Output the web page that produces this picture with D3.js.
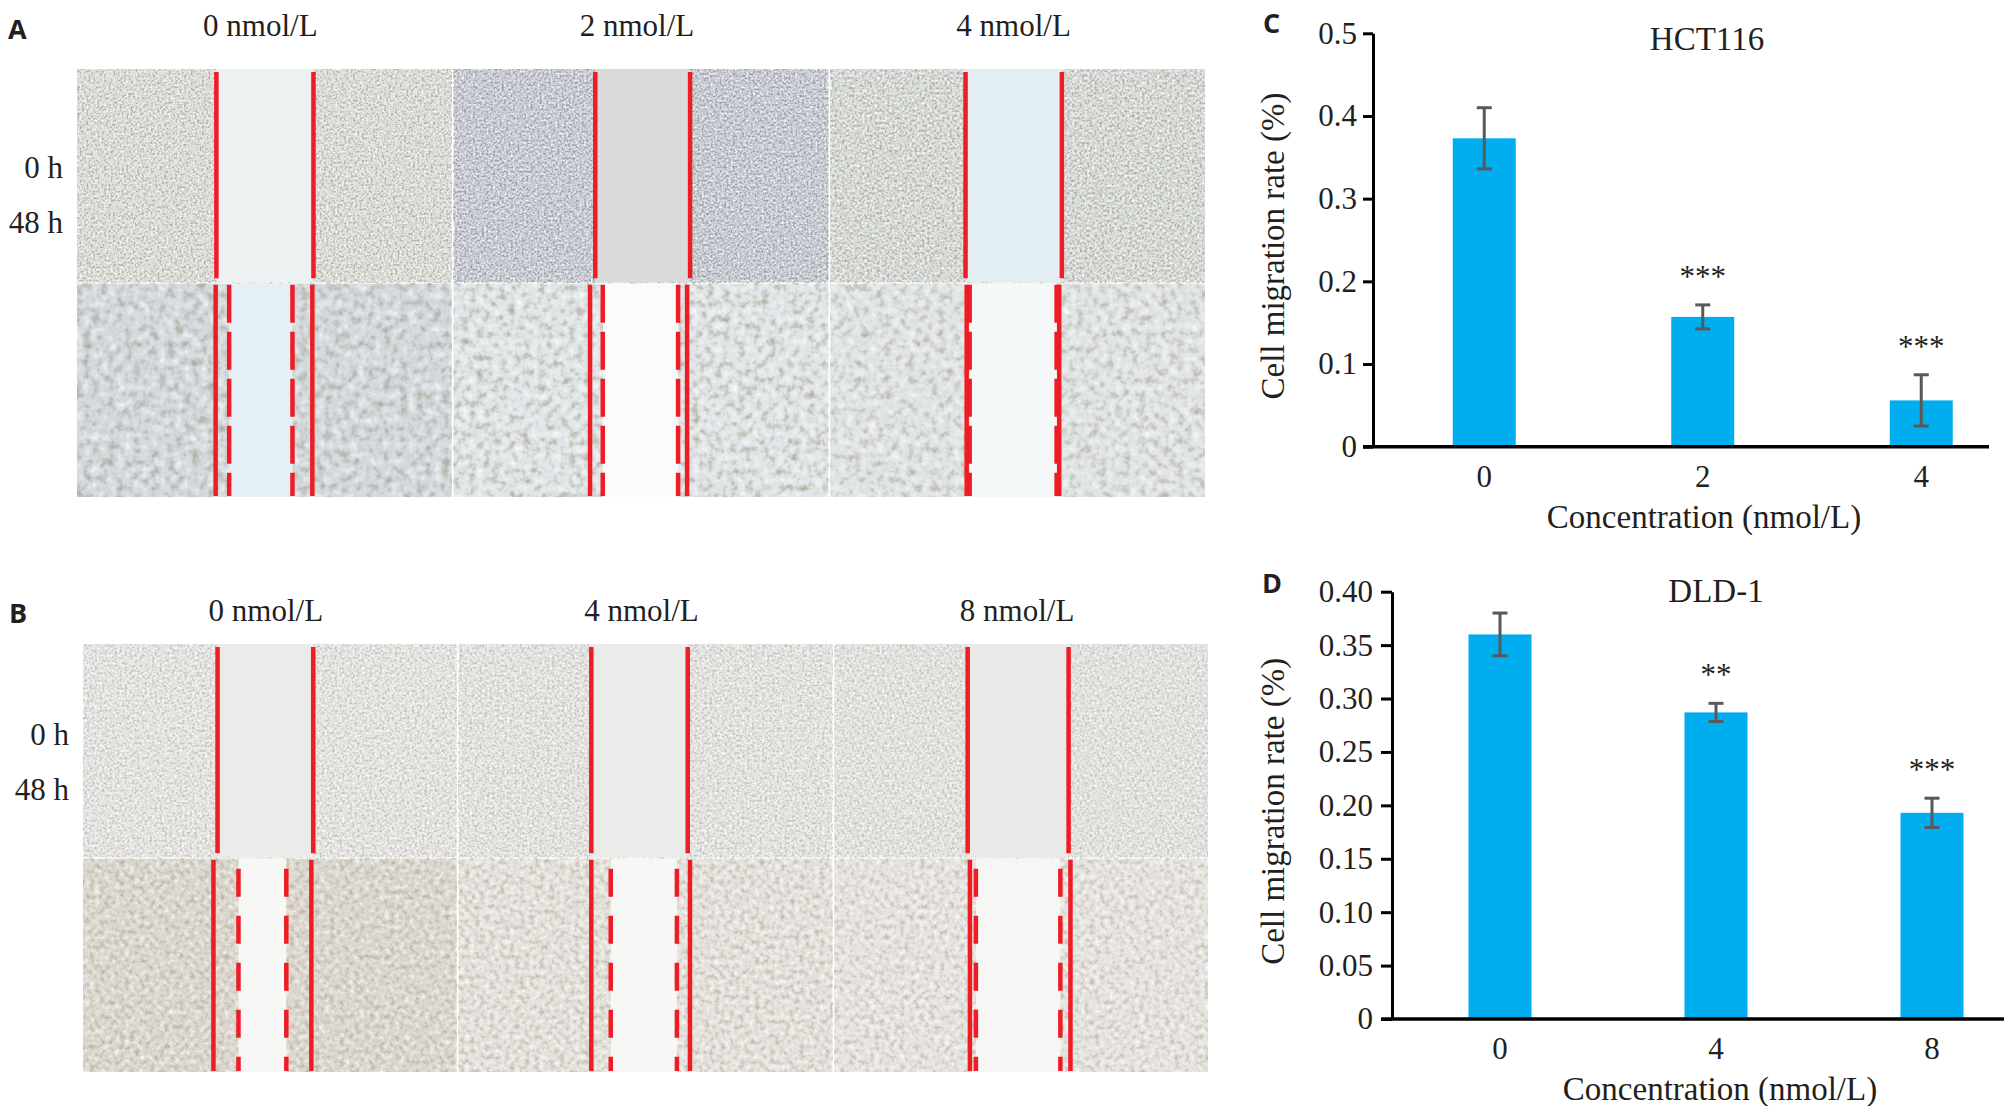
<!DOCTYPE html>
<html>
<head>
<meta charset="utf-8">
<script src="https://cdn.jsdelivr.net/npm/d3@7"></script>
<style>
  html, body { margin: 0; padding: 0; background: #fff; }
  svg { display: block; }
</style>
</head>
<body>
<script>
// ---------- data ----------
// wound healing fields (A: HCT116, B: DLD-1), wound edges as fraction of field width
const doseA = ['0 nmol/L', '2 nmol/L', '4 nmol/L']
const doseB = ['0 nmol/L', '4 nmol/L', '8 nmol/L']
const times = ['0 h', '48 h']
const woundA0 = [[0.372, 0.631], [0.378, 0.631], [0.361, 0.618]]
const woundA0b = [[0.370, 0.628], [0.364, 0.623], [0.364, 0.611]]
const woundA48 = [[0.406, 0.575], [0.398, 0.599], [0.372, 0.604]]
const woundB0 = [[0.360, 0.616], [0.355, 0.613], [0.357, 0.627]]
const woundB0b = [[0.349, 0.611], [0.355, 0.619], [0.363, 0.632]]
const woundB48 = [[0.416, 0.544], [0.407, 0.584], [0.379, 0.605]]

// migration rate bars
const hctDose = ['0', '2', '4']
const hctRate = [0.373, 0.157, 0.056]
const hctErr = [0.037, 0.0145, 0.031]
const hctSig = ['', '***', '***']
const hctTicks = [0, 0.1, 0.2, 0.3, 0.4, 0.5]

const dldDose = ['0', '4', '8']
const dldRate = [0.360, 0.287, 0.193]
const dldErr = [0.020, 0.0085, 0.0137]
const dldSig = ['', '**', '***']
const dldTicks = [0, 0.05, 0.10, 0.15, 0.20, 0.25, 0.30, 0.35, 0.40]

// ---------- styles ----------
const SERIF = "'Liberation Serif', 'Times New Roman', serif"
const SANS = "'Open Sans', 'DejaVu Sans', sans-serif"
const INK = '#231f20'
const RED = '#ee1c24'
const BAR = '#00aeef'
const ERR = '#595959'

// [col][row] tones of the micrographs
const tonesA = [
  [{ base: '#dededa', dark: '#b3b0a6', gap: '#eef1f1', freq: 0.45, k: 4 }, { base: '#d3d9dd', dark: '#aeab9f', gap: '#e5eff6', freq: 0.12, k: 2.6 }],
  [{ base: '#cbced4', dark: '#9a9dab', gap: '#d9dbd9', freq: 0.45, k: 4 }, { base: '#e0e5e7', dark: '#b3ae9f', gap: '#f9fbfc', freq: 0.13, k: 2.6 }],
  [{ base: '#d8dcd9', dark: '#b0afa2', gap: '#e3eef2', freq: 0.4, k: 4 }, { base: '#e0e4e4', dark: '#b6b2a5', gap: '#f5f8f9', freq: 0.13, k: 2.6 }]
]
const tonesB = [
  [{ base: '#e5e5e3', dark: '#c6c3bd', gap: '#ebebea', freq: 0.4, k: 4 }, { base: '#dcd8d0', dark: '#bcb4a8', gap: '#f7f7f5', freq: 0.2, k: 3 }],
  [{ base: '#e4e4e2', dark: '#c6c3bd', gap: '#ebebea', freq: 0.4, k: 4 }, { base: '#e5e2dd', dark: '#c3bcb0', gap: '#f7f7f6', freq: 0.2, k: 3 }],
  [{ base: '#e3e3e1', dark: '#c8c5bf', gap: '#e9e9e8', freq: 0.4, k: 4 }, { base: '#e6e4e0', dark: '#c5bfb4', gap: '#f6f6f5', freq: 0.2, k: 3 }]
]

const W = 2004
const H = 1106
const svg = d3.select('body').append('svg').attr('width', W).attr('height', H)
const defs = svg.append('defs')

// speckle texture filter for a field
function speckle (id, t, seed) {
  const f = defs.append('filter').attr('id', id)
    .attr('x', 0).attr('y', 0).attr('width', 1).attr('height', 1)
    .attr('color-interpolation-filters', 'sRGB')
  f.append('feTurbulence').attr('type', 'fractalNoise')
    .attr('baseFrequency', t.freq).attr('numOctaves', 3).attr('seed', seed).attr('result', 'n')
  const c = d3.color(t.dark)
  f.append('feColorMatrix').attr('in', 'n').attr('type', 'matrix').attr('result', 'dk')
    .attr('values', `0 0 0 0 ${c.r / 255} 0 0 0 0 ${c.g / 255} 0 0 0 0 ${c.b / 255} ${-t.k} 0 0 0 ${t.k * 0.5}`)
  f.append('feColorMatrix').attr('in', 'n').attr('type', 'matrix').attr('result', 'lt')
    .attr('values', `0 0 0 0 1 0 0 0 0 1 0 0 0 0 1 ${t.k * 0.8} 0 0 0 ${-t.k * 0.8 * 0.55}`)
  const m = f.append('feMerge').attr('result', 'mix')
  m.append('feMergeNode').attr('in', 'SourceGraphic')
  m.append('feMergeNode').attr('in', 'lt')
  m.append('feMergeNode').attr('in', 'dk')
  f.append('feGaussianBlur').attr('in', 'mix').attr('stdDeviation', 0.6)
}

function letter (t, x, y) {
  svg.append('text').attr('x', x).attr('y', y).text(t)
    .attr('font-family', SANS).attr('font-weight', 700).attr('font-size', 27).attr('fill', INK)
}

function fieldPanel (p) {
  const xb = d3.scaleBand().domain(d3.range(p.dose.length)).range([p.x0, p.x1]).paddingInner(0.005)
  const yb = d3.scaleBand().domain(times).range([p.y0, p.y1]).paddingInner(0.006)
  const g = svg.append('g')

  p.dose.forEach((dose, i) => {
    const fx = d3.scaleLinear().domain([0, 1]).range([xb(i), xb(i) + xb.bandwidth()])
    times.forEach((tm, r) => {
      const tone = p.tones[i][r]
      const id = `f-${p.name}-${i}-${r}`
      speckle(id, tone, 3 + i * 7 + r * 13 + p.seed)
      const top = yb(tm)
      const h = yb.bandwidth()
      g.append('rect').attr('x', fx(0)).attr('y', top).attr('width', fx(1) - fx(0)).attr('height', h)
        .attr('fill', tone.base).attr('filter', `url(#${id})`)
      const open = r === 0 ? p.edge0[i] : p.edge48[i]
      g.append('rect').attr('x', fx(open[0])).attr('y', top).attr('width', fx(open[1]) - fx(open[0])).attr('height', h)
        .attr('fill', tone.gap)
      const solid = r === 0 ? p.edge0[i] : p.edge0b[i]
      solid.forEach(e => {
        g.append('line').attr('x1', fx(e)).attr('x2', fx(e))
          .attr('y1', top + (r === 0 ? 3 : 1)).attr('y2', top + h - (r === 0 ? 4 : 1))
          .attr('stroke', RED).attr('stroke-width', 4.5)
      })
      if (r === 1) {
        p.edge48[i].forEach(e => {
          g.append('line').attr('x1', fx(e)).attr('x2', fx(e))
            .attr('y1', top + 1).attr('y2', top + h - 1)
            .attr('stroke', RED).attr('stroke-width', 4.5)
            .attr('stroke-dasharray', p.dash).attr('stroke-dashoffset', p.dashOffset)
        })
      }
    })
    g.append('text').attr('x', xb(i) + xb.bandwidth() / 2 - 4).attr('y', p.headY)
      .attr('text-anchor', 'middle').attr('font-family', SERIF).attr('font-size', 31).attr('fill', INK)
      .text(dose)
  })

  times.forEach((tm, r) => {
    g.append('text').attr('x', p.rowX).attr('y', p.rowY[r]).attr('text-anchor', 'end')
      .attr('font-family', SERIF).attr('font-size', 31).attr('fill', INK).text(tm)
  })
  letter(p.name, p.letter[0], p.letter[1])
}

function barPanel (p) {
  const y = d3.scaleLinear().domain([0, d3.max(p.ticks)]).range([p.yBottom, p.yTop])
  const pad = 1 - 63 / p.step
  const x = d3.scaleBand().domain(p.dose)
    .range([p.bandX, p.bandX + p.step * p.dose.length])
    .paddingInner(pad).paddingOuter(pad / 2)
  const g = svg.append('g')

  g.selectAll('rect.bar').data(p.dose).join('rect').attr('class', 'bar')
    .attr('x', d => x(d)).attr('width', x.bandwidth())
    .attr('y', (d, i) => y(p.rate[i])).attr('height', (d, i) => y(0) - y(p.rate[i]))
    .attr('fill', BAR)

  const cx = d => x(d) + x.bandwidth() / 2
  const eb = g.selectAll('g.err').data(p.dose).join('g').attr('class', 'err')
    .attr('stroke', ERR).attr('stroke-width', 3)
  eb.append('line').attr('x1', cx).attr('x2', cx)
    .attr('y1', (d, i) => y(p.rate[i] + p.err[i])).attr('y2', (d, i) => y(p.rate[i] - p.err[i]))
  eb.append('line').attr('x1', d => cx(d) - 7.5).attr('x2', d => cx(d) + 7.5)
    .attr('y1', (d, i) => y(p.rate[i] + p.err[i])).attr('y2', (d, i) => y(p.rate[i] + p.err[i]))
  eb.append('line').attr('x1', d => cx(d) - 7.5).attr('x2', d => cx(d) + 7.5)
    .attr('y1', (d, i) => y(p.rate[i] - p.err[i])).attr('y2', (d, i) => y(p.rate[i] - p.err[i]))

  g.selectAll('text.sig').data(p.dose).join('text').attr('class', 'sig')
    .attr('x', cx).attr('y', (d, i) => y(p.rate[i] + p.err[i]) - 18)
    .attr('text-anchor', 'middle').attr('font-family', SERIF).attr('font-size', 31).attr('fill', INK)
    .text((d, i) => p.sig[i])

  // y axis
  const ya = g.append('g').attr('transform', `translate(${p.axisX},0)`)
    .call(d3.axisLeft(y).tickValues(p.ticks).tickFormat(p.fmt)
      .tickSize(p.tick).tickSizeOuter(0).tickPadding(p.tickPad))
  ya.selectAll('path, line').attr('stroke', '#000').attr('stroke-width', 3)
  ya.selectAll('text').attr('font-family', SERIF).attr('font-size', 31).attr('fill', INK)

  // x axis
  const xa = g.append('g').attr('transform', `translate(0,${y(0)})`)
    .call(d3.axisBottom(x).tickSize(0).tickPadding(18))
  xa.select('.domain').remove()
  xa.selectAll('text').attr('font-family', SERIF).attr('font-size', 31).attr('fill', INK)
  g.append('line').attr('x1', p.axisX - p.tick).attr('x2', p.axisEnd)
    .attr('y1', y(0)).attr('y2', y(0)).attr('stroke', '#000').attr('stroke-width', 3.5)

  g.append('text').attr('x', p.titleX).attr('y', p.titleY).attr('text-anchor', 'middle')
    .attr('font-family', SERIF).attr('font-size', 33).attr('fill', INK).text(p.title)
  g.append('text').attr('x', (p.bandX + p.axisEnd) / 2 + 22).attr('y', y(0) + 81).attr('text-anchor', 'middle')
    .attr('font-family', SERIF).attr('font-size', 33).attr('fill', INK).text('Concentration (nmol/L)')
  g.append('text').attr('transform', `translate(${p.labelX},${(p.yBottom + p.yTop) / 2 + 6}) rotate(-90)`)
    .attr('text-anchor', 'middle').attr('font-family', SERIF).attr('font-size', 33).attr('fill', INK)
    .text('Cell migration rate (%)')
  letter(p.name, p.letter[0], p.letter[1])
}

fieldPanel({
  name: 'A', dose: doseA, tones: tonesA, seed: 1,
  edge0: woundA0, edge0b: woundA0b, edge48: woundA48,
  x0: 77, x1: 1205, y0: 69, y1: 497,
  dash: '38 9', dashOffset: 0,
  headY: 36, rowX: 63, rowY: [178, 233], letter: [8, 39]
})

fieldPanel({
  name: 'B', dose: doseB, tones: tonesB, seed: 5,
  edge0: woundB0, edge0b: woundB0b, edge48: woundB48,
  x0: 83, x1: 1208, y0: 644, y1: 1072,
  dash: '28 19', dashOffset: 38,
  headY: 621, rowX: 69, rowY: [745, 800], letter: [9, 623]
})

barPanel({
  name: 'C', dose: hctDose, rate: hctRate, err: hctErr, sig: hctSig, ticks: hctTicks,
  fmt: d => d === 0 ? '0' : d.toFixed(1),
  axisX: 1373, bandX: 1375, axisEnd: 1989, step: 218.5, yBottom: 446.7, yTop: 33.3,
  tick: 10, tickPad: 6, labelX: 1284, title: 'HCT116', titleX: 1707, titleY: 50, letter: [1263, 33]
})

barPanel({
  name: 'D', dose: dldDose, rate: dldRate, err: dldErr, sig: dldSig, ticks: dldTicks,
  fmt: d => d === 0 ? '0' : d.toFixed(2),
  axisX: 1392, bandX: 1392, axisEnd: 2004, step: 216, yBottom: 1019, yTop: 591.7,
  tick: 11, tickPad: 8, labelX: 1284, title: 'DLD-1', titleX: 1716, titleY: 602, letter: [1262, 593]
})
</script>
</body>
</html>
